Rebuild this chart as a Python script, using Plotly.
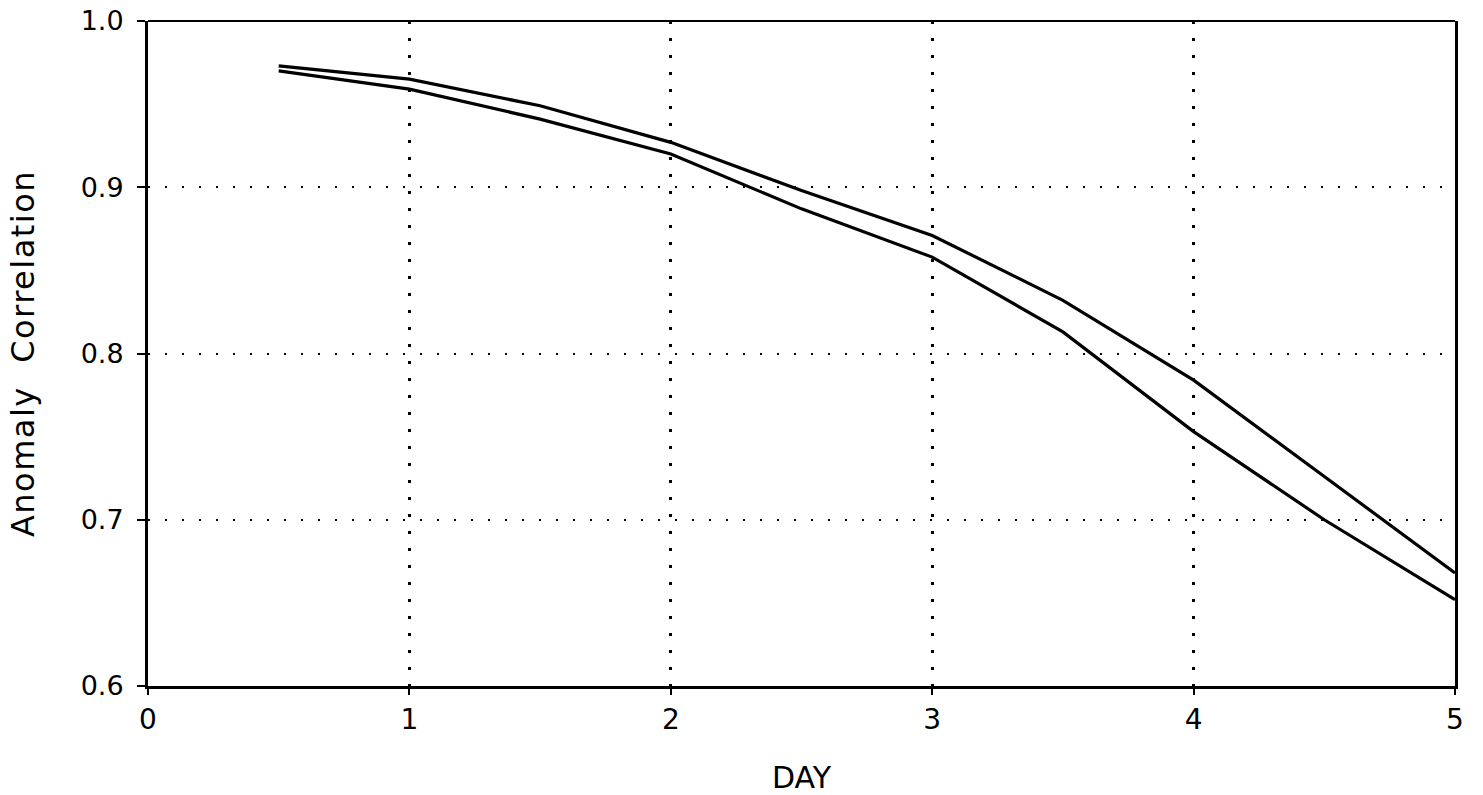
import plotly.graph_objects as go

# Data
day = [0.5, 1.0, 1.5, 2.0, 2.5, 3.0, 3.5, 4.0, 4.5, 5.0]
series_upper = [0.973, 0.965, 0.949, 0.927, 0.898, 0.871, 0.832, 0.784, 0.726, 0.668]
series_lower = [0.970, 0.959, 0.941, 0.920, 0.887, 0.858, 0.813, 0.753, 0.700, 0.652]
x_ticks = [0, 1, 2, 3, 4, 5]
y_ticks = [0.6, 0.7, 0.8, 0.9, 1.0]

FONT = "DejaVu Sans, Verdana, sans-serif"

fig = go.Figure()
for name, vals in [("upper", series_upper), ("lower", series_lower)]:
    fig.add_trace(go.Scatter(x=day, y=vals, mode="lines", name=name,
                             line=dict(color="black", width=3.2)))

fig.update_layout(
    template="none",
    width=1483, height=795,
    margin=dict(l=148, r=28, t=21, b=109, autoexpand=False),
    paper_bgcolor="white", plot_bgcolor="white",
    showlegend=False,
    font=dict(family=FONT, color="black"),
)
fig.update_xaxes(
    range=[0, 5], tickvals=x_ticks, ticktext=[str(v) for v in x_ticks],
    showline=True, linecolor="black", linewidth=3, mirror=False,
    ticks="outside", ticklen=6, tickwidth=2, tickcolor="black",
    showgrid=True, gridcolor="black", gridwidth=2.5, griddash="2.5px,14.5px",
    zeroline=False, automargin=False, tickfont=dict(size=28, family=FONT),
    title=dict(text="DAY", font=dict(size=30, family=FONT), standoff=40),
)
fig.update_yaxes(
    range=[0.6, 1.0], tickvals=y_ticks, tickformat=".1f",
    showline=True, linecolor="black", linewidth=3, mirror=True,
    ticks="outside", ticklen=8, tickwidth=2, tickcolor="black",
    ticklabelstandoff=8,
    showgrid=True, gridcolor="black", gridwidth=1.6, griddash="2px,15px",
    zeroline=False, automargin=False, tickfont=dict(size=27, family=FONT),
    title=dict(text="Anomaly\u00a0\u00a0Correlation", font=dict(size=32, family=FONT), standoff=37),
)
# top frame line (thinner than the other sides)
fig.add_shape(type="line", xref="paper", yref="paper", x0=0, x1=1, y0=1, y1=1,
              line=dict(color="black", width=2.2))

post = """
var gd = document.getElementById('{plot_id}');
gd.querySelectorAll('.ytitle').forEach(function(e){ e.style.letterSpacing = '1.5px'; });
"""
fig.write_html("out.html", post_script=post)
